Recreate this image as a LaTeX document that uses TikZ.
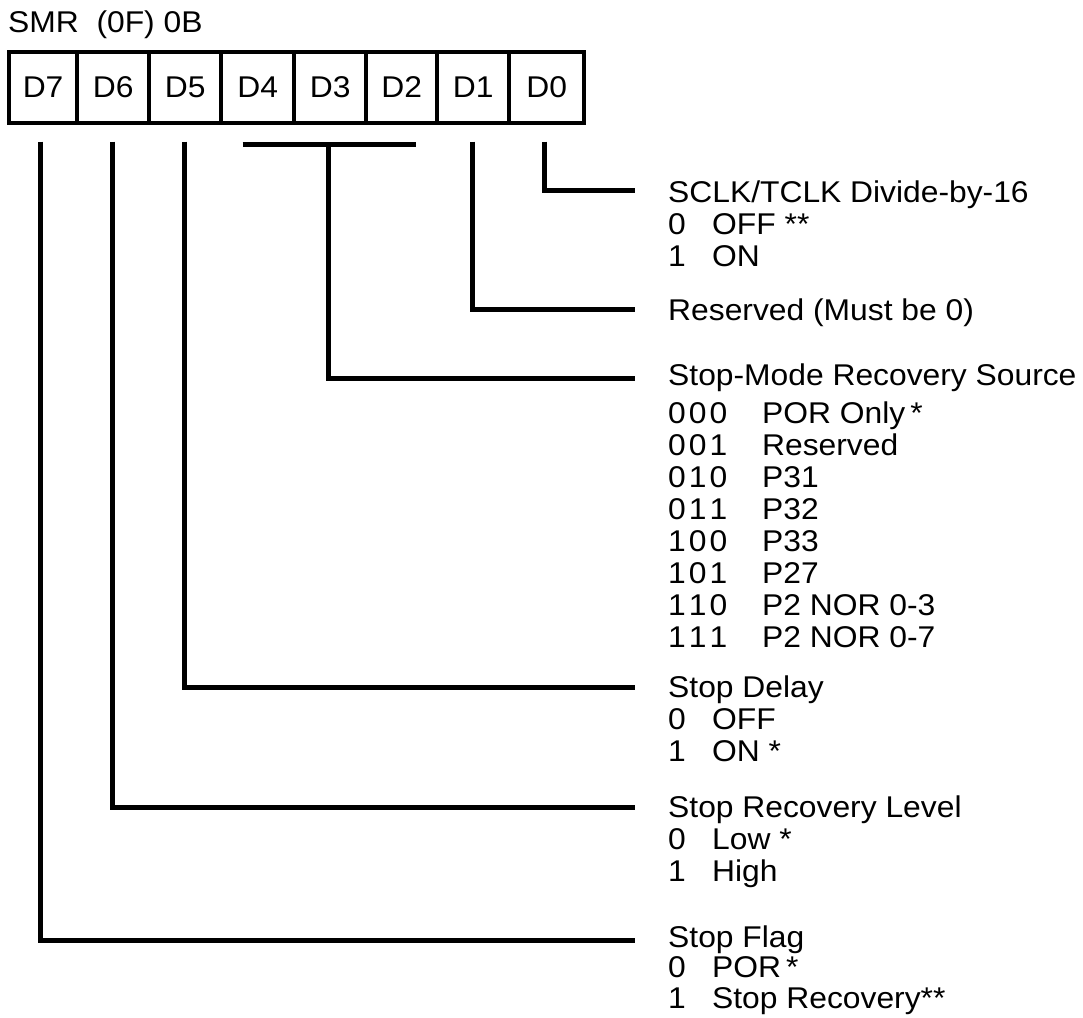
\documentclass[tikz,border=0pt]{standalone}
\usepackage{fontspec}
\setmainfont[FakeStretch=1.06]{Liberation Sans}
\newcommand\fs{\fontsize{30}{32}\selectfont}
\newcommand\bits[3]{#1\kern3pt#2\kern3pt#3}
\newcommand\one[2]{\makebox[44pt][l]{#1}#2}
\newcommand\three[2]{\makebox[94pt][l]{#1}#2}
\begin{document}
\begin{tikzpicture}[x=1pt,y=-1pt,
  cell/.style={draw,line width=4.2pt,minimum height=71pt,inner sep=0pt,font=\fs},
  wire/.style={line width=5pt,line join=miter},
  txt/.style={anchor=base west,inner sep=0pt,font=\fs}]
\useasboundingbox (0,0) rectangle (1083,1017);

% title
\node[txt] (title) at (8,32.7) {SMR\ \ (0F) 0B};

% register cells
\node[cell,minimum width=67.8pt] (c7) at (43.1,87.5) {D7};
\node[cell,minimum width=72.3pt] (c6) at (113.15,87.5) {D6};
\node[cell,minimum width=72pt] (c5) at (185.3,87.5) {D5};
\node[cell,minimum width=73pt] (c4) at (257.8,87.5) {D4};
\node[cell,minimum width=71.7pt] (c3) at (330.15,87.5) {D3};
\node[cell,minimum width=71.3pt] (c2) at (401.65,87.5) {D2};
\node[cell,minimum width=72pt] (c1) at (473.3,87.5) {D1};
\node[cell,minimum width=74.7pt] (c0) at (546.65,87.5) {D0};

% connector start points
\coordinate (t7) at (40.5,141.7);
\coordinate (t6) at (112,141.7);
\coordinate (t5) at (184,141.7);
\coordinate (bl) at (242.7,144);
\coordinate (br) at (415.7,144);
\coordinate (t3) at (328,144);
\coordinate (t1) at (472.5,141.7);
\coordinate (t0) at (544,141.7);

% connector end points
\coordinate (e0) at (635,190.5);
\coordinate (e1) at (635,309.5);
\coordinate (e3) at (635,378);
\coordinate (e5) at (635,687);
\coordinate (e6) at (635,807);
\coordinate (e7) at (635,940);

\draw[wire] (t0) |- (e0);
\draw[wire] (t1) |- (e1);
\draw[wire] (bl) -- (br);
\draw[wire] (t3) |- (e3);
\draw[wire] (t5) |- (e5);
\draw[wire] (t6) |- (e6);
\draw[wire] (t7) |- (e7);

% D0
\node[txt] (h0) at (668,202.7) {SCLK/TCLK Divide-by-16};
\node[txt] (h0a) at (668,234) {\one{0}{OFF **}};
\node[txt] (h0b) at (668,266) {\one{1}{ON}};
% D1
\node[txt] (h1) at (668,320) {Reserved (Must be 0)};
% D4-D2
\node[txt] (h3) at (668,385.5) {Stop-Mode Recovery Source};
\node[txt] (s0) at (668,423.5) {\three{\bits000}{POR Only\,*}};
\node[txt] (s1) at (668,455.5) {\three{\bits001}{Reserved}};
\node[txt] (s2) at (668,487.5) {\three{\bits010}{P31}};
\node[txt] (s3) at (668,519.5) {\three{\bits011}{P32}};
\node[txt] (s4) at (668,551.5) {\three{\bits100}{P33}};
\node[txt] (s5) at (668,583.5) {\three{\bits101}{P27}};
\node[txt] (s6) at (668,615.5) {\three{\bits110}{P2 NOR 0-3}};
\node[txt] (s7) at (668,647.5) {\three{\bits111}{P2 NOR 0-7}};
% D5
\node[txt] (h5) at (668,697.3) {Stop Delay};
\node[txt] (h5a) at (668,729.3) {\one{0}{OFF}};
\node[txt] (h5b) at (668,761) {\one{1}{ON *}};
% D6
\node[txt] (h6) at (668,817.3) {Stop Recovery Level};
\node[txt] (h6a) at (668,849) {\one{0}{Low *}};
\node[txt] (h6b) at (668,881) {\one{1}{High}};
% D7
\node[txt] (h7) at (668,947) {Stop Flag};
\node[txt] (h7a) at (668,977.5) {\one{0}{POR\,*}};
\node[txt] (h7b) at (668,1008.5) {\one{1}{Stop Recovery**}};
\end{tikzpicture}
\end{document}
